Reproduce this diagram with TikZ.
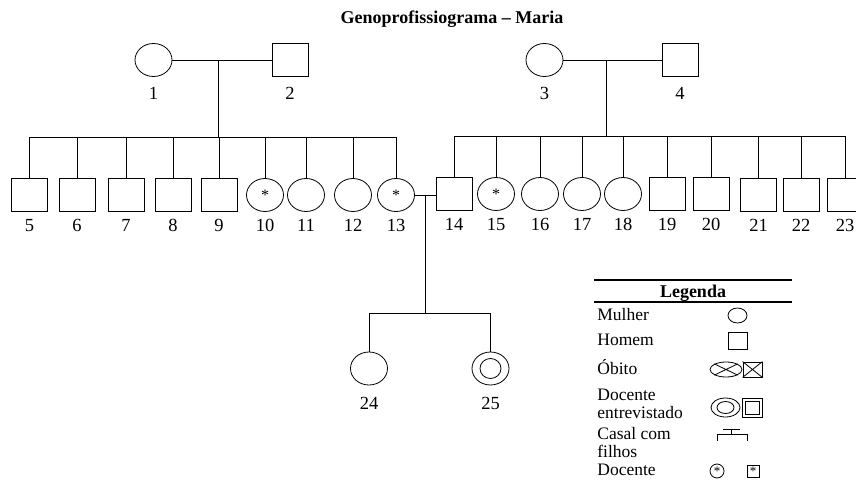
\documentclass[tikz,border=0pt]{standalone}
\usepackage{fontspec}
\setmainfont{Liberation Serif}
\usetikzlibrary{shapes.geometric,calc}

\tikzset{
  fem/.style={ellipse, draw, inner sep=0pt, minimum width=37pt, minimum height=33pt},
  masc/.style={rectangle, draw, inner sep=0pt, minimum width=36pt, minimum height=33pt},
  every label/.style={inner sep=0pt, font=\fontsize{18.5}{18.5}\selectfont},
  legtext/.style={anchor=base west, inner sep=0pt, font=\fontsize{17.5}{17.5}\selectfont},
  docmark/.style={font=\fontsize{16}{16}\selectfont}
}

\begin{document}
\begin{tikzpicture}[x=1pt, y=-1pt, label distance=7pt, line width=0.8pt]
            \useasboundingbox (0,0) rectangle (856,489);
            \node[anchor=base, font=\bfseries\fontsize{18}{18}\selectfont] at (452,24) (Title) {Genoprofissiograma – Maria};
            % grandparents
            \node[fem, label={[label distance=10pt]below:1}] at (153.5,60) (P1) {};
            \node[masc, label={[label distance=10pt]below:2}] at (290,60) (P2) {};
            \node[fem, label={[label distance=10pt]below:3}] at (544.5,60) (P3) {};
            \node[masc, label={[label distance=10pt]below:4}] at (680,60) (P4) {};
            % children of 1 and 2
            \node[masc, label=below:5] at (29.5,195) (P5) {};
            \node[masc, label=below:6] at (77,195) (P6) {};
            \node[masc, label=below:7] at (126,195) (P7) {};
            \node[masc, label=below:8] at (173,195) (P8) {};
            \node[masc, label=below:9] at (219,195) (P9) {};
            \node[fem, docmark, label=below:10] at (265,195) (P10) {*};
            \node[fem, label=below:11] at (306,195) (P11) {};
            \node[fem, label=below:12] at (353,195) (P12) {};
            \node[fem, docmark, label=below:13] at (396,195) (P13) {*};
            % children of 3 and 4
            \node[masc, label=below:14] at (454,194) (P14) {};
            \node[fem, docmark, label=below:15] at (496,194) (P15) {*};
            \node[fem, label=below:16] at (540,194) (P16) {};
            \node[fem, label=below:17] at (582,194) (P17) {};
            \node[fem, label=below:18] at (623,194) (P18) {};
            \node[masc, label=below:19] at (667,194) (P19) {};
            \node[masc, label=below:20] at (711,194) (P20) {};
            \node[masc, label=below:21] at (758.5,195) (P21) {};
            \node[masc, label=below:22] at (801,195) (P22) {};
            \node[masc, label=below:23] at (845,195) (P23) {};
            % children of 13 and 14
            \node[fem, label={[label distance=11pt]below:24}] at (369,368.5) (P24) {};
            \node[fem, label={[label distance=11pt]below:25}] at (490.5,368.5) (P25) {};
            \node[ellipse, draw, inner sep=0pt, minimum width=21pt, minimum height=20pt] at (P25) (P25in) {};
            % lines
            \draw (P1) -- (P2);
            \draw (P3) -- (P4);
            \coordinate (F1) at ($(P1.east)!0.46!(P2.west)$);
            \coordinate (F2) at ($(P3.east)!0.44!(P4.west)$);
            \coordinate (S1) at ($(F1)+(0,77)$);
            \coordinate (S2) at ($(F2)+(0,76)$);
            \draw (F1) -- (S1);
            \draw (F2) -- (S2);
            \draw (S1) -| (P5);
            \draw (S1) -| (P6);
            \draw (S1) -| (P7);
            \draw (S1) -| (P8);
            \draw (S1) -| (P9);
            \draw (S1) -| (P10);
            \draw (S1) -| (P11);
            \draw (S1) -| (P12);
            \draw (S1) -| (P13);
            \draw (S2) -| (P14);
            \draw (S2) -| (P15);
            \draw (S2) -| (P16);
            \draw (S2) -| (P17);
            \draw (S2) -| (P18);
            \draw (S2) -| (P19);
            \draw (S2) -| (P20);
            \draw (S2) -| (P21);
            \draw (S2) -| (P22);
            \draw (S2) -| (P23);
            \draw (P13.east) -- (P14.west |- P13.east);
            \coordinate (F3) at ($(P13.east)!0.5!(P14.west |- P13.east)$);
            \coordinate (S3) at ($(F3)+(0,118)$);
            \draw (F3) -- (S3);
            \draw (S3) -| (P24);
            \draw (S3) -| (P25);
            % legend
            \draw[line width=1.2pt] (594,280) -- (792,280);
            \draw[line width=1.2pt] (594,302) -- (792,302);
            \node[font=\bfseries\fontsize{18}{18}\selectfont, anchor=base] at (693,297) (Leg) {Legenda};
            \node[legtext] at (597,320.5) (LgT1) {Mulher};
            \node[legtext] at (597,345.5) (LgT2) {Homem};
            \node[legtext] at (597,374) (LgT3) {Óbito};
            \node[legtext] at (597,400) (LgT4) {Docente};
            \node[legtext] at (597,418) (LgT5) {entrevistado};
            \node[legtext] at (597,439) (LgT6) {Casal com};
            \node[legtext] at (597,457) (LgT7) {filhos};
            \node[legtext] at (597,475) (LgT8) {Docente};
            \node[fem, minimum width=19pt, minimum height=15pt] at (737.5,315.5) (LgF) {};
            \node[masc, minimum width=19pt, minimum height=17pt] at (737.5,341) (LgM) {};
            \node[fem, minimum width=32pt, minimum height=15pt] at (726,369.5) (LgOf) {};
            \node[masc, minimum width=19pt, minimum height=15pt] at (752.5,369.5) (LgOm) {};
            \draw (LgOf.north west) -- (LgOf.south east) (LgOf.south west) -- (LgOf.north east);
            \draw (LgOm.north west) -- (LgOm.south east) (LgOm.south west) -- (LgOm.north east);
            \node[fem, minimum width=29pt, minimum height=19pt] at (725.5,407.5) (LgEf) {};
            \node[fem, minimum width=17pt, minimum height=12pt] at (LgEf) (LgEf2) {};
            \node[masc, minimum width=20pt, minimum height=19pt] at (752,407.5) (LgEm) {};
            \node[masc, minimum width=14pt, minimum height=13pt] at (LgEm) (LgEm2) {};
            \draw (723,429) -- (740,429) (731.5,429) -- (731.5,434);
            \draw (717,441) -- (717,434) -- (747,434) -- (747,441);
            \node[fem, minimum width=14pt, minimum height=14pt, font=\fontsize{13}{13}\selectfont] at (717,471) (LgDf) {*};
            \node[masc, minimum width=12pt, minimum height=12pt, font=\fontsize{13}{13}\selectfont] at (753,471) (LgDm) {*};
        \end{tikzpicture}
\end{document}
